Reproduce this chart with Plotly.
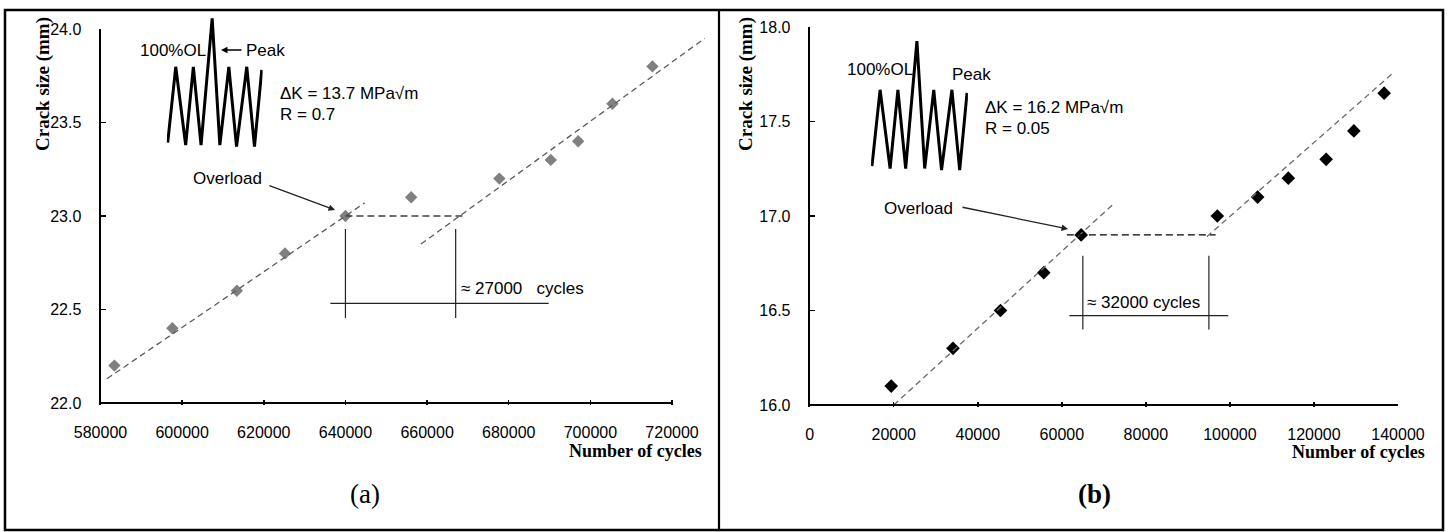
import plotly.graph_objects as go

W, H = 1456, 532

# ---------------- data ----------------
LEFT_CYCLES = [583400, 597600, 613400, 625200, 640000, 656100, 677700, 690300, 697000, 705400, 715200]
LEFT_CRACK = [22.2, 22.4, 22.6, 22.8, 23.0, 23.1, 23.2, 23.3, 23.4, 23.6, 23.8]
RIGHT_CYCLES = [19400, 34100, 45400, 55700, 64600, 97000, 106600, 113900, 122900, 129500, 136700]
RIGHT_CRACK = [16.1, 16.3, 16.5, 16.7, 16.9, 17.0, 17.1, 17.2, 17.3, 17.45, 17.65]

LEFT_FIT_PRE_X = [581600, 644700]
LEFT_FIT_PRE_Y = [22.13, 23.07]
LEFT_DELAY_X = [640000, 669300]
LEFT_DELAY_Y = [23.0, 23.0]
LEFT_FIT_POST_X = [658500, 728000]
LEFT_FIT_POST_Y = [22.85, 23.95]

RIGHT_FIT_PRE_X = [20000, 72600]
RIGHT_FIT_PRE_Y = [16.0, 17.07]
RIGHT_DELAY_X = [61200, 96600]
RIGHT_DELAY_Y = [16.9, 16.9]
RIGHT_FIT_POST_X = [94500, 139000]
RIGHT_FIT_POST_Y = [16.89, 17.76]

LEFT_DIM_MARKS = [640000, 667000]
LEFT_DIM_SPAN = [22.93, 22.455]
LEFT_DIM_BAR_X = [636300, 689800]
LEFT_DIM_BAR_Y = 22.533
RIGHT_DIM_MARKS = [65000, 95000]
RIGHT_DIM_SPAN = [16.79, 16.40]
RIGHT_DIM_BAR_X = [61800, 99600]
RIGHT_DIM_BAR_Y = 16.473

LEFT_XTICKS = [580000, 600000, 620000, 640000, 660000, 680000, 700000, 720000]
LEFT_YTICKS = [22.0, 22.5, 23.0, 23.5, 24.0]
RIGHT_XTICKS = [0, 20000, 40000, 60000, 80000, 100000, 120000, 140000]
RIGHT_YTICKS = [16.0, 16.5, 17.0, 17.5, 18.0]

# overload arrows: (tail x, tail y, tip x, tip y) in data units
LEFT_OVERLOAD_ARROW = [621000, 23.166, 637450, 23.032]
RIGHT_OVERLOAD_ARROW = [36000, 17.048, 61470, 16.931]

# loading schematic (normalised time / level)
WAVE_T = [0, 0.94, 2.1, 3.0, 3.9, 5.2, 6.1, 7.15, 8.05, 9.25, 10.15, 11.0]
WAVE_LEVEL = [0.03, 1.0, 0.0, 1.0, 0.0, 1.62, 0.0, 1.0, -0.02, 1.0, -0.02, 0.96]

SANS = "Liberation Sans"
SERIF = "Liberation Serif"


def px(x):
    return x / W


def py(y):
    return 1 - y / H


fig = go.Figure()

# ---------- left panel ----------
fig.add_trace(go.Scatter(x=LEFT_CYCLES, y=LEFT_CRACK, mode="markers",
                         marker=dict(symbol="diamond", size=9.5, color="#808080"),
                         xaxis="x", yaxis="y"))
for xs, ys, col, dash in [(LEFT_FIT_PRE_X, LEFT_FIT_PRE_Y, "#5a5a5a", "6px,4px"),
                          (LEFT_DELAY_X, LEFT_DELAY_Y, "#404040", "7px,4px"),
                          (LEFT_FIT_POST_X, LEFT_FIT_POST_Y, "#5a5a5a", "6px,4px")]:
    fig.add_trace(go.Scatter(x=xs, y=ys, mode="lines", line=dict(color=col, width=1.3, dash=dash),
                             xaxis="x", yaxis="y"))

# ---------- right panel ----------
fig.add_trace(go.Scatter(x=RIGHT_CYCLES, y=RIGHT_CRACK, mode="markers",
                         marker=dict(symbol="diamond", size=10.5, color="black"),
                         xaxis="x2", yaxis="y2"))
for xs, ys, col, dash in [(RIGHT_FIT_PRE_X, RIGHT_FIT_PRE_Y, "#6a6a6a", "6px,4px"),
                          (RIGHT_DELAY_X, RIGHT_DELAY_Y, "black", "7px,4px"),
                          (RIGHT_FIT_POST_X, RIGHT_FIT_POST_Y, "#6a6a6a", "6px,4px")]:
    fig.add_trace(go.Scatter(x=xs, y=ys, mode="lines", line=dict(color=col, width=1.3, dash=dash),
                             xaxis="x2", yaxis="y2"))

# ---------- waveform insets ----------
fig.add_trace(go.Scatter(x=WAVE_T, y=WAVE_LEVEL, mode="lines", line=dict(color="black", width=3),
                         xaxis="x3", yaxis="y3"))
fig.add_trace(go.Scatter(x=WAVE_T, y=WAVE_LEVEL, mode="lines", line=dict(color="black", width=3),
                         xaxis="x4", yaxis="y4"))

tickfont = dict(family=SANS, size=16, color="black")


def xaxis_cfg(dom, rng, ticks, anchor):
    return dict(domain=dom, range=rng, anchor=anchor, tickmode="array", tickvals=ticks,
                ticktext=[str(t) for t in ticks], ticks="inside", ticklen=5, tickwidth=1.5,
                tickcolor="black", showline=False, showgrid=False, zeroline=False,
                tickfont=tickfont, ticklabelstandoff=16, fixedrange=True, automargin=False)


def yaxis_cfg(dom, rng, ticks, anchor):
    return dict(domain=dom, range=rng, anchor=anchor, tickmode="array", tickvals=ticks,
                ticktext=["%.1f" % t for t in ticks], ticks="inside", ticklen=5, tickwidth=1.5,
                tickcolor="black", showline=True, linewidth=2, linecolor="black",
                showgrid=False, zeroline=False, tickfont=tickfont, ticklabelstandoff=14,
                fixedrange=True, automargin=False)


hidden = dict(visible=False, showgrid=False, zeroline=False, fixedrange=True, automargin=False)

fig.update_layout(
    template="none",
    width=W, height=H, margin=dict(l=0, r=0, t=0, b=0, pad=0, autoexpand=False),
    paper_bgcolor="white", plot_bgcolor="rgba(0,0,0,0)", showlegend=False,
    xaxis=xaxis_cfg([px(100.5), px(710)], [580000, 729300], LEFT_XTICKS, "y"),
    yaxis=yaxis_cfg([py(404.5), py(29)], [22 - 1.5 / 187, 24], LEFT_YTICKS, "x"),
    xaxis2=xaxis_cfg([px(809.7), px(1398)], [0, 140000], RIGHT_XTICKS, "y2"),
    yaxis2=yaxis_cfg([py(406.5), py(27)], [16 - 1.5 / 189, 18], RIGHT_YTICKS, "x2"),
    xaxis3=dict(hidden, domain=[px(166.85), px(262.6)], range=[-0.1, 11.1], anchor="y3"),
    yaxis3=dict(hidden, domain=[py(151.3), py(13.6)], range=[-0.08, 1.68], anchor="x3"),
    xaxis4=dict(hidden, domain=[px(871.1), px(967.9)], range=[-0.1, 11.1], anchor="y4"),
    yaxis4=dict(hidden, domain=[py(174.8), py(36.3)], range=[-0.08, 1.68], anchor="x4"),
)

shapes = []
# frame and divider
shapes.append(dict(type="rect", xref="paper", yref="paper", x0=px(5), x1=px(1443), y0=py(530), y1=py(10),
                   line=dict(color="black", width=2.5)))
shapes.append(dict(type="line", xref="paper", yref="paper", x0=px(719), x1=px(719), y0=py(530), y1=py(10),
                   line=dict(color="black", width=2.2)))
# x-axis lines (end at last tick)
shapes.append(dict(type="line", xref="x", yref="y", x0=LEFT_XTICKS[0], x1=LEFT_XTICKS[-1],
                   y0=LEFT_YTICKS[0], y1=LEFT_YTICKS[0], line=dict(color="black", width=2)))
shapes.append(dict(type="line", xref="x2", yref="y2", x0=RIGHT_XTICKS[0], x1=RIGHT_XTICKS[-1],
                   y0=RIGHT_YTICKS[0], y1=RIGHT_YTICKS[0], line=dict(color="black", width=2)))
# dimension lines
dimline = dict(color="#222222", width=1.2)
for xv in LEFT_DIM_MARKS:
    shapes.append(dict(type="line", xref="x", yref="y", x0=xv, x1=xv, y0=LEFT_DIM_SPAN[0], y1=LEFT_DIM_SPAN[1],
                       line=dimline))
shapes.append(dict(type="line", xref="x", yref="y", x0=LEFT_DIM_BAR_X[0], x1=LEFT_DIM_BAR_X[1],
                   y0=LEFT_DIM_BAR_Y, y1=LEFT_DIM_BAR_Y, line=dimline))
for xv in RIGHT_DIM_MARKS:
    shapes.append(dict(type="line", xref="x2", yref="y2", x0=xv, x1=xv, y0=RIGHT_DIM_SPAN[0], y1=RIGHT_DIM_SPAN[1],
                       line=dimline))
shapes.append(dict(type="line", xref="x2", yref="y2", x0=RIGHT_DIM_BAR_X[0], x1=RIGHT_DIM_BAR_X[1],
                   y0=RIGHT_DIM_BAR_Y, y1=RIGHT_DIM_BAR_Y, line=dimline))
fig.update_layout(shapes=shapes)

ann = []


def txt(x, y, s, size=17, family=SANS, xanchor="left", bold=False, angle=0):
    ann.append(dict(xref="paper", yref="paper", x=px(x), y=py(y), text=("<b>%s</b>" % s) if bold else s,
                    showarrow=False, xanchor=xanchor, yanchor="middle", textangle=angle,
                    font=dict(family=family, size=size, color="black")))


# axis titles
txt(43, 84, "Crack size (mm)", size=19, family=SERIF, xanchor="center", bold=True, angle=-90)
txt(746, 84, "Crack size (mm)", size=19, family=SERIF, xanchor="center", bold=True, angle=-90)
txt(704, 451, "Number of cycles", size=18, family=SERIF, xanchor="right", bold=True)
txt(1427, 452, "Number of cycles", size=18, family=SERIF, xanchor="right", bold=True)
# panel labels
txt(365, 494, "(a)", size=27, family=SERIF, xanchor="center")
txt(1094, 494, "(b)", size=27, family=SERIF, xanchor="center", bold=True)
# inset texts
txt(208, 50, "100%OL", xanchor="right")
txt(244, 50, "Peak")
txt(278, 93, "ΔK = 13.7 MPa√m")
txt(278, 115, "R = 0.7")
txt(845, 70, "100%OL")
txt(950, 74, "Peak")
txt(983, 108, "ΔK = 16.2 MPa√m")
txt(983, 129, "R = 0.05")
# overload labels
txt(227, 178, "Overload", xanchor="center")
txt(918, 209, "Overload", xanchor="center")
# dimension labels
txt(459, 288, "≈\u00a027000\u00a0\u00a0\u00a0cycles")
txt(1085, 302, "≈\u00a032000 cycles")

# arrows
arrow_style = dict(showarrow=True, arrowhead=2, arrowsize=1, arrowwidth=1.3, arrowcolor="#222222", text="")
ann.append(dict(arrow_style, xref="x", yref="y", axref="x", ayref="y",
                x=LEFT_OVERLOAD_ARROW[2], y=LEFT_OVERLOAD_ARROW[3],
                ax=LEFT_OVERLOAD_ARROW[0], ay=LEFT_OVERLOAD_ARROW[1]))
ann.append(dict(arrow_style, xref="x2", yref="y2", axref="x2", ayref="y2",
                x=RIGHT_OVERLOAD_ARROW[2], y=RIGHT_OVERLOAD_ARROW[3],
                ax=RIGHT_OVERLOAD_ARROW[0], ay=RIGHT_OVERLOAD_ARROW[1]))
ann.append(dict(arrow_style, xref="paper", yref="paper", x=px(221), y=py(50), ax=22, ay=0,
                arrowcolor="black"))

fig.update_layout(annotations=ann)

fig.write_html("out.html", config={"displayModeBar": False, "staticPlot": True},
               post_script="document.body.style.margin='0px';document.body.style.overflow='hidden';")
